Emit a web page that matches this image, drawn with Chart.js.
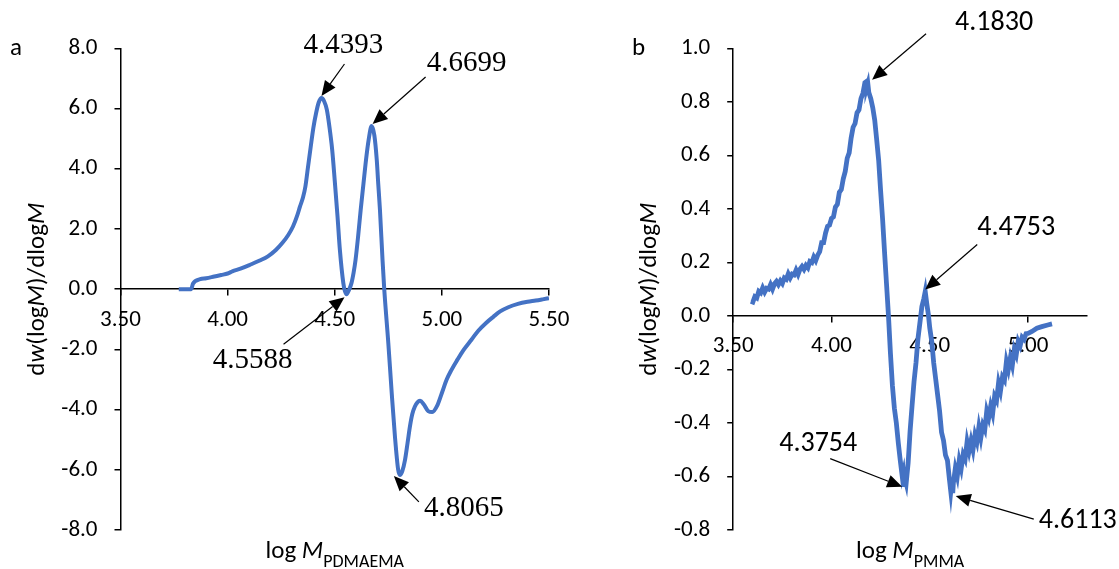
<!DOCTYPE html>
<html>
<head>
<meta charset="utf-8">
<script src="https://cdn.jsdelivr.net/npm/chart.js@4.4.1/dist/chart.umd.min.js"></script>
<style>
  html, body { margin: 0; padding: 0; background: #fff; }
  #wrap { position: relative; width: 1119px; height: 569px; }
  .box { position: absolute; top: 0; height: 569px; }
  #boxA { left: 0; width: 600px; }
  #boxB { left: 600px; width: 519px; }
</style>
</head>
<body>
<div id="wrap">
  <div class="box" id="boxA"><canvas id="chartA"></canvas></div>
  <div class="box" id="boxB"><canvas id="chartB"></canvas></div>
</div>
<script>
// ---- panel a : PDMAEMA ----
const xA = [3.772, 3.830, 3.838, 3.872, 3.900, 3.938, 3.970, 4.000, 4.022, 4.060,
  4.105, 4.150, 4.188, 4.225, 4.255, 4.283, 4.305, 4.325, 4.338, 4.352,
  4.363, 4.375, 4.388, 4.400, 4.413, 4.425, 4.438, 4.450, 4.463, 4.475,
  4.488, 4.500, 4.513, 4.524, 4.540, 4.547, 4.555, 4.565, 4.578, 4.588,
  4.597, 4.609, 4.621, 4.634, 4.646, 4.658, 4.672, 4.685, 4.696, 4.703,
  4.711, 4.723, 4.731, 4.750, 4.766, 4.781, 4.796, 4.804, 4.815, 4.828,
  4.840, 4.851, 4.862, 4.874, 4.886, 4.898, 4.915, 4.936, 4.955, 4.980,
  5.000, 5.022, 5.045, 5.072, 5.100, 5.138, 5.170, 5.205, 5.240, 5.272,
  5.310, 5.355, 5.400, 5.438, 5.470, 5.500];
const yA = [0, 0, 0.18, 0.33, 0.36, 0.42, 0.47, 0.52, 0.59, 0.68,
  0.81, 0.95, 1.09, 1.30, 1.53, 1.80, 2.08, 2.45, 2.75, 3.05,
  3.41, 4.05, 4.74, 5.35, 5.85, 6.20, 6.35, 6.25, 5.96, 5.40,
  4.63, 3.60, 2.41, 1.30, 0.20, -0.05, -0.17, -0.05, 0.20, 0.55,
  0.97, 1.75, 2.63, 3.50, 4.30, 4.95, 5.42, 5.10, 4.30, 3.50,
  2.63, 0.97, 0.00, -1.79, -3.46, -4.90, -6.00, -6.17, -6.05, -5.67,
  -5.10, -4.56, -4.15, -3.90, -3.76, -3.71, -3.82, -4.05, -4.08, -3.84,
  -3.45, -3.01, -2.68, -2.35, -2.03, -1.68, -1.38, -1.13, -0.92, -0.74,
  -0.60, -0.49, -0.42, -0.38, -0.34, -0.30];
const xTicksA = [3.5, 4.0, 4.5, 5.0, 5.5];
const yTicksA = [-8, -6, -4, -2, 0, 2, 4, 6, 8];
const peakTextA = ['4.4393', '4.6699', '4.5588', '4.8065'];
const peakXA = [4.438, 4.672, 4.555, 4.804];
const peakYA = [6.35, 5.42, -0.17, -6.17];

// ---- panel b : PMMA ----
const xB = [3.59, 3.60, 3.61, 3.62, 3.63, 3.64, 3.65, 3.66, 3.67, 3.68,
  3.69, 3.70, 3.71, 3.72, 3.73, 3.74, 3.75, 3.76, 3.77, 3.78,
  3.79, 3.80, 3.81, 3.82, 3.83, 3.84, 3.85, 3.86, 3.87, 3.88,
  3.89, 3.90, 3.91, 3.92, 3.93, 3.94, 3.95, 3.96, 3.97, 3.98,
  3.99, 4.00, 4.01, 4.02, 4.03, 4.04, 4.05, 4.06, 4.07, 4.08,
  4.09, 4.10, 4.11, 4.12, 4.13, 4.14, 4.15, 4.16, 4.17, 4.176,
  4.18, 4.185, 4.19, 4.20, 4.21, 4.22, 4.23, 4.24, 4.25, 4.26,
  4.27, 4.28, 4.29, 4.30, 4.31, 4.32, 4.33, 4.34, 4.35, 4.36,
  4.365, 4.37, 4.375, 4.38, 4.39, 4.40, 4.41, 4.42, 4.43, 4.44,
  4.45, 4.46, 4.47, 4.477, 4.485, 4.493, 4.50, 4.51, 4.52, 4.53,
  4.54, 4.55, 4.56, 4.57, 4.58, 4.59, 4.60, 4.607, 4.612, 4.617,
  4.62, 4.63, 4.64, 4.65, 4.66, 4.67, 4.68, 4.69, 4.70, 4.71,
  4.72, 4.73, 4.74, 4.75, 4.76, 4.77, 4.78, 4.79, 4.80, 4.81,
  4.82, 4.83, 4.84, 4.85, 4.86, 4.87, 4.88, 4.89, 4.90, 4.91,
  4.92, 4.93, 4.94, 4.95, 4.96, 4.97, 4.98, 4.99, 5.00, 5.02,
  5.045, 5.07, 5.10, 5.122];
const yB = [0.055, 0.052, 0.072, 0.067, 0.092, 0.086, 0.105, 0.089, 0.103, 0.100,
  0.117, 0.100, 0.120, 0.129, 0.117, 0.131, 0.121, 0.142, 0.137, 0.157,
  0.142, 0.156, 0.153, 0.171, 0.155, 0.175, 0.185, 0.174, 0.189, 0.180,
  0.203, 0.199, 0.220, 0.207, 0.227, 0.240, 0.274, 0.274, 0.310, 0.335,
  0.339, 0.364, 0.370, 0.407, 0.417, 0.462, 0.472, 0.512, 0.540, 0.589,
  0.609, 0.665, 0.705, 0.719, 0.759, 0.770, 0.812, 0.832, 0.872, 0.875,
  0.855, 0.868, 0.835, 0.812, 0.778, 0.732, 0.658, 0.582, 0.468, 0.362,
  0.238, 0.120, 0.000, -0.140, -0.260, -0.345, -0.400, -0.475, -0.540, -0.600,
  -0.585, -0.638, -0.610, -0.625, -0.550, -0.430, -0.335, -0.245, -0.175, -0.085,
  -0.025, 0.035, 0.065, 0.091, 0.045, 0.005, -0.045, -0.095, -0.175, -0.235,
  -0.295, -0.355, -0.435, -0.465, -0.520, -0.540, -0.610, -0.656, -0.620, -0.662,
  -0.625, -0.570, -0.600, -0.540, -0.570, -0.518, -0.535, -0.470, -0.505, -0.467,
  -0.500, -0.445, -0.470, -0.415, -0.455, -0.408, -0.425, -0.355, -0.380, -0.337,
  -0.365, -0.300, -0.315, -0.250, -0.280, -0.228, -0.240, -0.170, -0.200, -0.157,
  -0.185, -0.125, -0.145, -0.095, -0.112, -0.080, -0.088, -0.066, -0.065, -0.058,
  -0.046, -0.040, -0.034, -0.030];
const xTicksB = [3.5, 4.0, 4.5, 5.0];
const yTicksB = [-0.8, -0.6, -0.4, -0.2, 0, 0.2, 0.4, 0.6, 0.8, 1.0];
const peakTextB = ['4.1830', '4.4753', '4.3754', '4.6113'];
const peakXB = [4.176, 4.477, 4.370, 4.617];
const peakYB = [0.875, 0.091, -0.638, -0.662];

const SANS = "'Carlito', 'Open Sans', sans-serif";
const SERIF = "'Liberation Serif', 'Times New Roman', serif";
const BLUE = '#4472C4';

function drawArrow(ctx, x1, y1, x2, y2) {
  const ang = Math.atan2(y2 - y1, x2 - x1);
  const head = 15, half = 6.5;
  const bx = x2 - head * Math.cos(ang), by = y2 - head * Math.sin(ang);
  ctx.beginPath();
  ctx.moveTo(x1, y1);
  ctx.lineTo(bx, by);
  ctx.stroke();
  ctx.beginPath();
  ctx.moveTo(x2, y2);
  ctx.lineTo(bx + half * Math.sin(ang), by - half * Math.cos(ang));
  ctx.lineTo(bx - half * Math.sin(ang), by + half * Math.cos(ang));
  ctx.closePath();
  ctx.fill();
}

// draws a run of text pieces, some italic / subscript, starting at x
function drawRich(ctx, parts, x, y, size) {
  parts.forEach(p => {
    const sz = p.sub ? size * 0.72 : size;
    ctx.font = (p.it ? 'italic ' : '') + sz + 'px ' + SANS;
    ctx.fillText(p.t, x, y + (p.sub ? size * 0.36 : 0));
    x += ctx.measureText(p.t).width;
  });
}
function richWidth(ctx, parts, size) {
  let w = 0;
  parts.forEach(p => {
    const sz = p.sub ? size * 0.72 : size;
    ctx.font = (p.it ? 'italic ' : '') + sz + 'px ' + SANS;
    w += ctx.measureText(p.t).width;
  });
  return w;
}

const yTitleParts = [{t: 'd'}, {t: 'w', it: true}, {t: '(log'}, {t: 'M', it: true}, {t: ')/dlog'}, {t: 'M', it: true}];

const decor = {
  id: 'decor',
  afterDraw(chart, args, o) {
    const ctx = chart.ctx;
    const area = chart.chartArea;
    const sx = chart.scales.x, sy = chart.scales.y;
    ctx.save();
    ctx.fillStyle = '#000';
    ctx.strokeStyle = '#000';
    ctx.lineWidth = 1.2;

    // panel letter
    ctx.font = '25px ' + SANS;
    ctx.textAlign = 'center';
    ctx.textBaseline = 'middle';
    ctx.fillText(o.letter, area.left + o.letterDx, area.top);

    // y title, rotated
    ctx.save();
    ctx.translate(area.left - 83, (area.top + area.bottom) / 2);
    ctx.rotate(-Math.PI / 2);
    ctx.textAlign = 'left';
    ctx.textBaseline = 'middle';
    const yw = richWidth(ctx, yTitleParts, 25);
    drawRich(ctx, yTitleParts, -yw / 2, 0, 25);
    ctx.restore();

    // x title
    const xParts = [{t: 'log '}, {t: 'M', it: true}, {t: o.sub, sub: true}];
    ctx.textAlign = 'left';
    ctx.textBaseline = 'alphabetic';
    const xw = richWidth(ctx, xParts, 25);
    drawRich(ctx, xParts, (area.left + area.right) / 2 - xw / 2, 558, 25);

    // peak arrows + labels
    ctx.font = o.labelFont;
    ctx.textAlign = 'center';
    ctx.textBaseline = 'middle';
    o.notes.forEach((n, i) => {
      const px = sx.getPixelForValue(o.px[i]) + n.tip[0];
      const py = sy.getPixelForValue(o.py[i]) + n.tip[1];
      drawArrow(ctx, px + n.tail[0], py + n.tail[1], px, py);
      ctx.fillText(o.text[i], px + n.txt[0], py + n.txt[1]);
    });
    ctx.restore();
  }
};

function axisOpts(min, max, tickList, fmt) {
  return {
    type: 'linear', min: min, max: max,
    afterBuildTicks: s => { s.ticks = tickList.map(v => ({value: v})); },
    grid: { drawOnChartArea: false, drawTicks: true, tickLength: 6, color: '#000', lineWidth: 1.5 },
    border: { display: true, color: '#000', width: 1.5 },
    ticks: {
      color: '#000', font: { family: SANS, size: 23 }, autoSkip: false, maxRotation: 0,
      callback: v => (Math.abs(v) < 1e-9 ? 0 : v).toFixed(fmt)
    }
  };
}

function makeChart(id, xs, ys, xr, yr, xTicks, yTicks, pad, lineW, smooth, decoOpts) {
  const xo = axisOpts(xr[0], xr[1], xTicks, 2);
  xo.position = { y: 0 };
  xo.afterFit = s => { s.height = 0; };
  xo.ticks.padding = 11;
  const yo = axisOpts(yr[0], yr[1], yTicks, 1);
  yo.position = 'left';
  yo.afterFit = s => { s.width = 60; };
  yo.ticks.padding = 17;
  return new Chart(document.getElementById(id), {
    type: 'line',
    data: {
      datasets: [{
        data: xs.map((x, i) => ({ x: x, y: ys[i] })),
        borderColor: BLUE,
        borderWidth: lineW,
        pointRadius: 0,
        fill: false,
        tension: smooth ? 0.4 : 0,
        cubicInterpolationMode: smooth ? 'monotone' : 'default'
      }]
    },
    options: {
      responsive: true,
      maintainAspectRatio: false,
      animation: false,
      layout: { padding: pad },
      scales: { x: xo, y: yo },
      plugins: { legend: { display: false }, tooltip: { enabled: false }, decor: decoOpts }
    },
    plugins: [decor]
  });
}

makeChart('chartA', xA, yA, [3.5, 5.5], [-8, 8], xTicksA, yTicksA,
  { left: 60.5, right: 51, top: 48.3, bottom: 39 }, 4, true, {
    letter: 'a', letterDx: -104.5, sub: 'PDMAEMA',
    labelFont: '29px ' + SERIF,
    text: peakTextA, px: peakXA, py: peakYA,
    notes: [
      { tip: [0, -2], tail: [23, -32], txt: [22, -51] },
      { tip: [1, -2], tail: [53, -47], txt: [94, -61] },
      { tip: [-2, 3], tail: [-61, 47], txt: [-92, 63] },
      { tip: [-6, 1], tail: [25, 26], txt: [70, 32] }
    ]
  });

makeChart('chartB', xB, yB, [3.5, 5.3], [-0.8, 1.0], xTicksB, yTicksB,
  { left: 73.2, right: 32, top: 48.3, bottom: 39 }, 4.8, false, {
    letter: 'b', letterDx: -94.6, sub: 'PMMA',
    labelFont: '28px ' + SANS,
    text: peakTextB, px: peakXB, py: peakYB,
    notes: [
      { tip: [6, -2], tail: [54, -46], txt: [122, -57] },
      { tip: [0, -2], tail: [52, -45], txt: [91, -62] },
      { tip: [-2, 0], tail: [-72, -28], txt: [-84, -43] },
      { tip: [3, 3], tail: [78, 23], txt: [122, 25] }
    ]
  });
</script>
</body>
</html>
